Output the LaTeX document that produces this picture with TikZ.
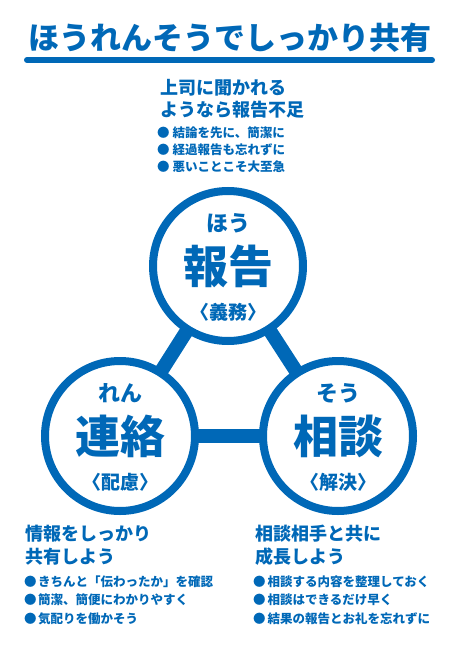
\documentclass[tikz,border=0pt]{standalone}
\usepackage{fontspec}
\usetikzlibrary{calc, backgrounds}
\newfontfamily\jpfont{Noto Sans CJK JP}
\definecolor{hourenblue}{HTML}{0068B7}

\begin{document}
\begin{tikzpicture}[
    x=1pt, y=-1pt,
    every node/.style={inner sep=0pt, text=hourenblue},
    ring/.style={circle, draw=hourenblue, fill=white, line width=8pt, minimum size=150pt},
    link/.style={draw=hourenblue, line width=14pt},
    titlestyle/.style={font=\jpfont\bfseries\fontsize{31}{31}\selectfont},
    kana/.style={font=\jpfont\bfseries\fontsize{22}{22}\selectfont},
    kanji/.style={font=\jpfont\bfseries\fontsize{45}{45}\selectfont},
    role/.style={font=\jpfont\bfseries\fontsize{19}{19}\selectfont},
    headline/.style={anchor=west, font=\jpfont\bfseries\fontsize{18}{18}\selectfont},
    item/.style={anchor=west, font=\jpfont\bfseries\fontsize{12.5}{12.5}\selectfont},
]
\useasboundingbox (0,0) rectangle (459,650);

% ================= TITLE =================
\node[titlestyle] (title) at (229.5,38) {ほうれんそうでしっかり共有};
\draw[hourenblue, line width=6pt, line cap=round] (27,60) -- (432,60);

% ================= THREE RINGS =================
\foreach \name/\x/\y/\yomi/\kanji/\role in {hou/228/266/ほう/報告/義務, ren/120/436/れん/連絡/配慮, sou/338/436/そう/相談/解決} {
    \node[ring] (\name) at (\x,\y) {};
    \node[kana] (\name-yomi) at ($(\name)+(0,-43)$) {\yomi};
    \node[kanji] (\name-kanji) at (\name) {\kanji};
    \node[role] (\name-role) at ($(\name)+(0,46)$) {〈\role〉};
}
\begin{scope}[on background layer]
    \draw[link] (hou.center) -- (ren.center);
    \draw[link] (hou.center) -- (sou.center);
    \draw[link] (ren.center) -- (sou.center);
\end{scope}

% ================= TOP: houkoku =================
\node[headline] (hou-head1) at (160,88) {上司に聞かれる};
\node[headline] (hou-head2) at (160,110) {ようなら報告不足};
\foreach \t [count=\k] in {結論を先に、簡潔に, 経過報告も忘れずに, 悪いことこそ大至急}
    \node[item] (hou-item\k) at (157,{116+17*\k}) {●\hspace{3pt}\t};

% ================= LEFT: renraku =================
\node[headline] (ren-head1) at (25,534) {情報をしっかり};
\node[headline] (ren-head2) at (25,557) {共有しよう};
\foreach \t [count=\k] in {きちんと「伝わったか」を確認, 簡潔、簡便にわかりやすく, 気配りを働かそう}
    \node[item] (ren-item\k) at (24,{563+18.5*\k}) {●\hspace{1.5pt}\t};

% ================= RIGHT: soudan =================
\node[headline] (sou-head1) at (255,534) {相談相手と共に};
\node[headline] (sou-head2) at (255,557) {成長しよう};
\foreach \t [count=\k] in {相談する内容を整理しておく, 相談はできるだけ早く, 結果の報告とお礼を忘れずに}
    \node[item] (sou-item\k) at (253,{563+18.5*\k}) {●\hspace{2pt}\t};

\end{tikzpicture}
\end{document}
